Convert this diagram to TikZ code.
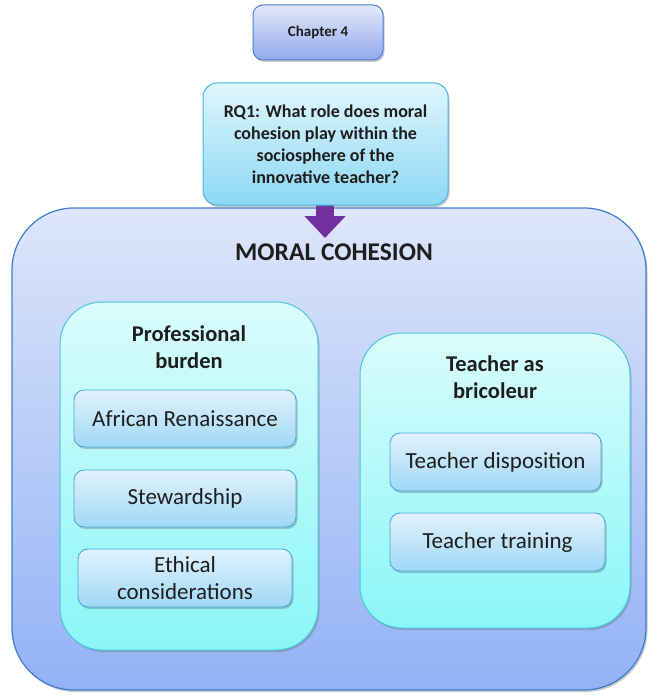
\documentclass[tikz,border=0pt]{standalone}
\usepackage{fontspec}
\setmainfont{Carlito}
\usetikzlibrary{shadows,arrows.meta}
\definecolor{bigtop}{HTML}{DDE6FA}
\definecolor{bigbot}{HTML}{92B2F6}
\definecolor{bigborder}{HTML}{3C7CD0}
\definecolor{intop}{HTML}{DAFCFC}
\definecolor{inbot}{HTML}{8AF6F8}
\definecolor{inborder}{HTML}{48C8D8}
\definecolor{smtop}{HTML}{E0F2FC}
\definecolor{smbot}{HTML}{A0D8F6}
\definecolor{smborder}{HTML}{48A8DC}
\definecolor{chtop}{HTML}{E4EAFA}
\definecolor{chbot}{HTML}{90A8EE}
\definecolor{chborder}{HTML}{4A80D4}
\definecolor{rqtop}{HTML}{E0F6FC}
\definecolor{rqbot}{HTML}{8CD8F4}
\definecolor{rqborder}{HTML}{48B4E4}
\definecolor{arrowpurple}{HTML}{7030A0}
\definecolor{txt}{HTML}{1E1E1E}
\tikzset{
  shad/.style={drop shadow={shadow xshift=1.5pt, shadow yshift=-2pt, opacity=0.35, fill=black!60}},
  bigbox/.style={rectangle, rounded corners=62pt, draw=bigborder, line width=1.2pt, top color=bigtop, bottom color=bigbot, inner sep=0pt, shad},
  innerbox/.style={rectangle, rounded corners=42pt, draw=inborder, line width=1pt, top color=intop, bottom color=inbot, inner sep=0pt, shad},
  smallbox/.style={rectangle, rounded corners=10pt, draw=smborder, line width=0.9pt, top color=smtop, bottom color=smbot, inner sep=0pt, shad, text=txt, font=\fontsize{23}{27}\selectfont, align=center},
  chapbox/.style={rectangle, rounded corners=10pt, draw=chborder, line width=1pt, top color=chtop, bottom color=chbot, inner sep=0pt, shad, text=txt, font=\bfseries\fontsize{15}{18}\selectfont},
  rqbox/.style={rectangle, rounded corners=14pt, draw=rqborder, line width=1pt, top color=rqtop, bottom color=rqbot, inner sep=0pt, shad, text=txt, font=\bfseries\fontsize{18}{22}\selectfont, align=center},
  title/.style={text=txt, font=\bfseries\fontsize{22.5}{27.5}\selectfont, align=center, inner sep=0pt},
  bigtitle/.style={text=txt, font=\bfseries\fontsize{25.5}{28}\selectfont, inner sep=0pt}
}
\begin{document}
\begin{tikzpicture}[x=1pt, y=-1pt]
\useasboundingbox (0,0) rectangle (648,695);
% big container
\node[bigbox, minimum width=634pt, minimum height=482pt] (big) at (329,449) {};
\node[chapbox, minimum width=130pt, minimum height=55pt] (ch) at (318,32.5) {Chapter 4};
\coordinate (atip) at (325,238);
% inner boxes
\node[innerbox, minimum width=258pt, minimum height=348pt] (left) at (189,476) {};
\node[innerbox, minimum width=270pt, minimum height=295pt] (right) at (495,480.5) {};
\node[bigtitle] (mc) at (334,252) {MORAL COHESION};
\node[title] (lt) at (189,347) {Professional\\burden};
\node[title] (rt) at (495,377) {Teacher as\\bricoleur};
\node[smallbox, minimum width=222pt, minimum height=57pt] (ar) at (185,418.5) {African Renaissance};
\node[smallbox, minimum width=222pt, minimum height=57pt] (st) at (185,498.5) {Stewardship};
\node[smallbox, minimum width=214pt, minimum height=58pt] (ec) at (185,578) {Ethical\\considerations};
\node[smallbox, minimum width=211pt, minimum height=58pt] (td) at (495.5,462) {Teacher disposition};
\node[smallbox, minimum width=215pt, minimum height=58pt] (tt) at (497.5,542) {Teacher training};
% arrow from RQ1 into the container
\draw[arrowpurple, line width=18pt, -{Triangle[width=40pt,length=22pt]}] (325,182) -- (atip);
\node[rqbox, minimum width=245pt, minimum height=122pt] (rq) at (325.5,144) {RQ1: What role does moral\\cohesion play within the\\sociosphere of the\\innovative teacher?};
\end{tikzpicture}
\end{document}
